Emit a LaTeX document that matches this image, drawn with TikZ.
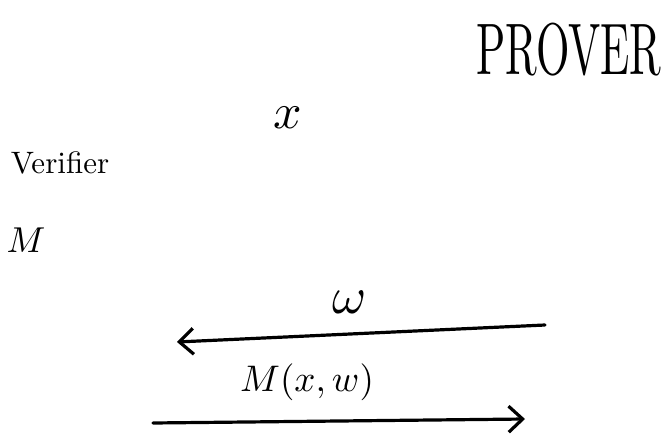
\documentclass[tikz,border=0pt]{standalone}
\usetikzlibrary{arrows.meta}
\begin{document}
\begin{tikzpicture}[x=1pt,y=-1pt,
  hand/.style={inner sep=0pt, text=black},
  msg/.style={line width=3.2pt, line cap=round, -{Straight Barb[length=14pt,width=26pt,line width=3.2pt]}}]
\useasboundingbox (0,0) rectangle (665,434);
\node[hand] (prover) at (569,50) {\scalebox{4.3}[7.3]{PROVER}};
\node[hand] (x) at (288,118) {\scalebox{5}{$x$}};
\node[hand] (verifier) at (60,163) {\scalebox{3.1}{Verifier}};
\node[hand] (m) at (26,240) {\scalebox{3.6}{$M$}};
\node[hand] (w) at (350,302) {\scalebox{5.2}{$\omega$}};
\node[hand] (mxw) at (307,382) {\scalebox{3.7}{$M(x, w)$}};
\coordinate (a1s) at (545,325);
\coordinate (a1e) at (177,342);
\coordinate (a2s) at (153,423);
\coordinate (a2e) at (525,419);
\draw[msg] (a1s) -- (a1e);
\draw[msg] (a2s) -- (a2e);
\end{tikzpicture}
\end{document}
